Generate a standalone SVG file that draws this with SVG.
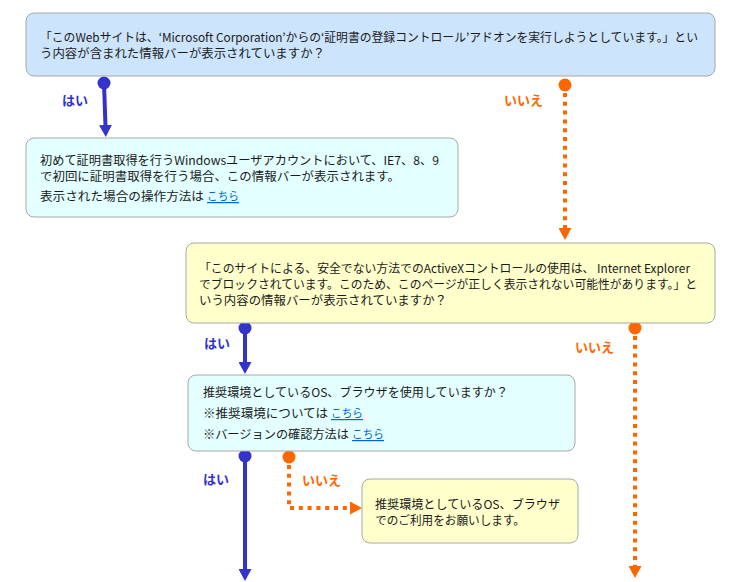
<svg xmlns="http://www.w3.org/2000/svg" width="740" height="582" viewBox="0 0 740 582">
<style>
.box{stroke:#a8a8a8;stroke-width:1}
.q1{fill:#cce4fc}
.cy{fill:#e3ffff}
.yl{fill:#ffffcc}
text{font-family:"Noto Sans CJK JP","Noto Sans",sans-serif;font-size:12px;fill:#1a1a1a}
.lk{fill:#0066dd;text-decoration:underline}
.yes{fill:#3333cc;font-weight:bold;font-size:13px}
.no{fill:#ff6600;font-weight:bold;font-size:13px}
.bl{stroke:#3333cc;stroke-width:4;fill:none}
.or{stroke:#ff6600;stroke-width:4;fill:none;stroke-dasharray:4 4.8}
.bd{fill:#3333cc}
.od{fill:#ff6600}
</style>
<defs>
<marker id="ab" markerUnits="userSpaceOnUse" markerWidth="12" markerHeight="13" refX="2" refY="6.5" orient="auto"><path d="M0,0 L12,6.5 L0,13 z" fill="#3333cc"/></marker>
<marker id="ao" markerUnits="userSpaceOnUse" markerWidth="12" markerHeight="13" refX="2" refY="6.5" orient="auto"><path d="M0,0 L12,6.5 L0,13 z" fill="#ff6600"/></marker>
</defs>
<rect width="740" height="582" fill="#ffffff"/>
<g id="connectors">
<circle class="bd" cx="104" cy="83" r="6.5"/>
<path class="bl" d="M104,83 L105.5,127" marker-end="url(#ab)"/>
<circle class="od" cx="565" cy="85" r="6.5"/>
<path class="or" d="M565,93 L565,230" marker-end="url(#ao)"/>
<circle class="bd" cx="245" cy="328" r="6.5"/>
<path class="bl" d="M245,328 L245,364" marker-end="url(#ab)"/>
<circle class="od" cx="635" cy="328" r="6.5"/>
<path class="or" d="M635,336 L635,568" marker-end="url(#ao)"/>
<circle class="bd" cx="245" cy="456" r="6.5"/>
<path class="bl" d="M245,456 L245,571" marker-end="url(#ab)"/>
<circle class="od" cx="289" cy="457" r="6.5"/>
<path class="or" d="M289,465 L289,508 L352,508" marker-end="url(#ao)"/>
<text class="yes" x="62" y="105">はい</text>
<text class="no" x="504" y="105">いいえ</text>
<text class="yes" x="204" y="348">はい</text>
<text class="no" x="575" y="352">いいえ</text>
<text class="yes" x="203" y="484">はい</text>
<text class="no" x="302" y="485">いいえ</text>
</g>
<g id="q1">
<rect class="box q1" x="26" y="13" width="689" height="63" rx="8"/>
<text x="40" y="42" textLength="658" lengthAdjust="spacingAndGlyphs">「このWebサイトは、‘Microsoft Corporation’からの‘証明書の登録コントロール’アドオンを実行しようとしています。」とい</text>
<text x="40" y="58" textLength="285" lengthAdjust="spacingAndGlyphs">う内容が含まれた情報バーが表示されていますか？</text>
</g>
<g id="a1">
<rect class="box cy" x="26" y="138" width="432" height="79" rx="8"/>
<text x="40" y="165" textLength="399" lengthAdjust="spacingAndGlyphs">初めて証明書取得を行うWindowsユーザアカウントにおいて、IE7、8、9</text>
<text x="40" y="181" textLength="360" lengthAdjust="spacingAndGlyphs">で初回に証明書取得を行う場合、この情報バーが表示されます。</text>
<text x="40" y="201" textLength="164" lengthAdjust="spacingAndGlyphs">表示された場合の操作方法は</text>
<text class="lk" x="207" y="201" textLength="32" lengthAdjust="spacingAndGlyphs">こちら</text>
</g>
<g id="q2">
<rect class="box yl" x="186" y="243" width="529" height="80" rx="8"/>
<text x="199" y="273" textLength="491" lengthAdjust="spacingAndGlyphs">「このサイトによる、安全でない方法でのActiveXコントロールの使用は、 Internet Explorer</text>
<text x="199" y="289" textLength="498" lengthAdjust="spacingAndGlyphs">でブロックされています。このため、このページが正しく表示されない可能性があります。」と</text>
<text x="199" y="305" textLength="248" lengthAdjust="spacingAndGlyphs">いう内容の情報バーが表示されていますか？</text>
</g>
<g id="q3">
<rect class="box cy" x="188" y="375" width="387" height="76" rx="8"/>
<text x="203" y="397" textLength="305" lengthAdjust="spacingAndGlyphs">推奨環境としているOS、ブラウザを使用していますか？</text>
<text x="203" y="418" textLength="125" lengthAdjust="spacingAndGlyphs">※推奨環境については</text>
<text class="lk" x="331" y="418" textLength="32" lengthAdjust="spacingAndGlyphs">こちら</text>
<text x="203" y="439" textLength="146" lengthAdjust="spacingAndGlyphs">※バージョンの確認方法は</text>
<text class="lk" x="352" y="439" textLength="32" lengthAdjust="spacingAndGlyphs">こちら</text>
</g>
<g id="a3">
<rect class="box yl" x="362" y="479" width="216" height="64" rx="8"/>
<text x="375" y="509" textLength="185" lengthAdjust="spacingAndGlyphs">推奨環境としているOS、ブラウザ</text>
<text x="375" y="525" textLength="150" lengthAdjust="spacingAndGlyphs">でのご利用をお願いします。</text>
</g>
</svg>
